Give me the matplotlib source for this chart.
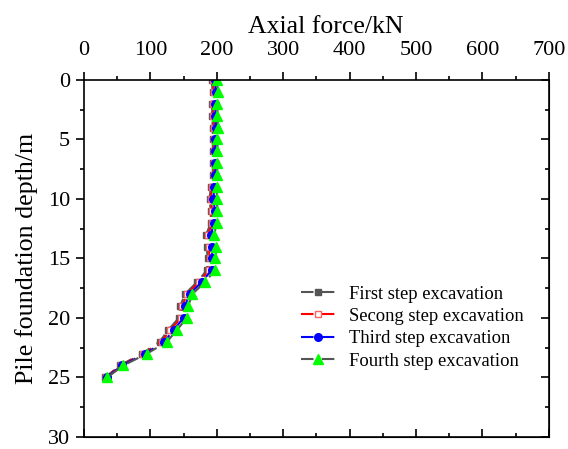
import matplotlib
matplotlib.use('Agg')
import matplotlib.pyplot as plt
from matplotlib.ticker import MultipleLocator

plt.rcParams['font.family'] = ['Liberation Serif', 'DejaVu Serif']
plt.rcParams['mathtext.fontset'] = 'stix'

# depth along the pile (m)
depth = list(range(0, 26))

# axial force (kN) for each excavation step
first_step = [192, 194, 193, 193, 194, 194, 194, 194, 194, 191, 189, 191, 191,
              184, 185, 186, 185, 170, 152, 145, 143, 127, 114, 87, 54, 32]
second_step = [194, 196, 195, 195, 196, 196, 196, 196, 196, 193, 191, 193, 193,
               187, 188, 189, 188, 173, 155, 148, 146, 130, 117, 89, 55, 33]
third_step = [197, 199, 198, 198, 199, 198, 198, 198, 198, 196, 195, 197, 196,
              191, 193, 193, 192, 177, 159, 152, 150, 135, 121, 92, 57, 34]
fourth_step = [200, 202, 201, 201, 202, 201, 201, 200, 201, 200, 200, 201, 200,
               196, 199, 198, 197, 182, 163, 157, 155, 140, 125, 95, 59, 35]

labels = ['First step excavation', 'Secong step excavation',
          'Third step excavation', 'Fourth step excavation']

fig = plt.figure(figsize=(5.68, 4.49), dpi=100)
ax = fig.add_axes([0.148, 0.027, 0.818, 0.795])

dash = (6, 4)
ax.plot(first_step, depth, ls='--', dashes=dash, color='#555555', marker='s', ms=5,
        mfc='#555555', mec='#555555', lw=1.5, label=labels[0])
ax.plot(second_step, depth, ls='--', dashes=dash, color='red', marker='s', ms=5,
        mfc='white', mec='#ff6060', lw=1.5, label=labels[1])
ax.plot(third_step, depth, ls='--', dashes=dash, color='blue', marker='o', ms=5.5,
        mfc='blue', mec='blue', lw=1.5, label=labels[2])
ax.plot(fourth_step, depth, ls='--', dashes=dash, color='#555555', marker='^', ms=6.5,
        mfc='#00ff00', mec='#00ff00', lw=1.5, label=labels[3])

ax.set_xlim(0, 700)
ax.set_ylim(30, 0)
ax.xaxis.set_major_locator(MultipleLocator(100))
ax.xaxis.set_minor_locator(MultipleLocator(50))
ax.yaxis.set_major_locator(MultipleLocator(5))
ax.yaxis.set_minor_locator(MultipleLocator(2.5))
ax.xaxis.tick_top()
ax.xaxis.set_label_position('top')
ax.tick_params(which='both', direction='out', top=True, bottom=False,
               left=True, right=False, labelsize=16, width=1.2)
ax.tick_params(which='major', length=6)
ax.tick_params(which='minor', length=3)
ax.tick_params(axis='x', pad=8)
ax.tick_params(axis='y', pad=4)

sec_x = ax.secondary_xaxis('bottom')
sec_x.xaxis.set_major_locator(MultipleLocator(100))
sec_x.xaxis.set_minor_locator(MultipleLocator(50))
sec_x.tick_params(which='both', direction='in', labelbottom=False, width=1.2)
sec_x.tick_params(which='major', length=6)
sec_x.tick_params(which='minor', length=3)
sec_y = ax.secondary_yaxis('right')
sec_y.yaxis.set_major_locator(MultipleLocator(5))
sec_y.yaxis.set_minor_locator(MultipleLocator(2.5))
sec_y.tick_params(which='both', direction='in', labelright=False, width=1.2)
sec_y.tick_params(which='major', length=6)
sec_y.tick_params(which='minor', length=3)

for s in ax.spines.values():
    s.set_linewidth(1.2)

ax.set_xlabel('Axial force/kN', fontsize=18.5, labelpad=6)
ax.xaxis.label.set_x(0.52)
ax.set_ylabel('Pile foundation depth/m', fontsize=18.7, labelpad=7)

ax.legend(loc='upper left', bbox_to_anchor=(0.43, 0.471), frameon=False,
          fontsize=13.4, handlelength=1.9, labelspacing=0.29, handletextpad=0.7)

fig.savefig('out.png', dpi=100)
